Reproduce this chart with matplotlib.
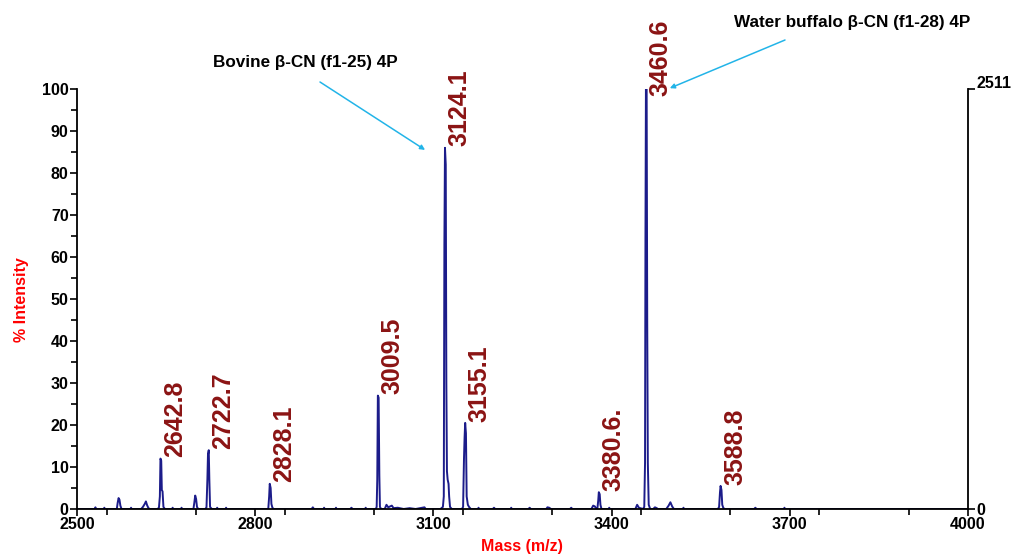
import matplotlib
matplotlib.use("Agg")
import matplotlib.pyplot as plt
from matplotlib.ticker import MultipleLocator
import matplotlib.transforms as mtransforms

# ---- data ----
mz = [2500, 2530, 2531, 2532, 2545, 2546, 2547,
      2567, 2568.5, 2570, 2571.5, 2573, 2575,
      2590, 2591, 2592,
      2608, 2611, 2614, 2616, 2618, 2620, 2622,
      2636, 2638, 2639.5, 2640.5, 2641.8, 2642.8, 2644, 2645.5, 2648,
      2660, 2661, 2662, 2675, 2676, 2677,
      2696, 2697.5, 2699, 2700.5, 2702, 2704,
      2716, 2718, 2719.5, 2720.5, 2721.8, 2722.8, 2724, 2727,
      2735, 2736, 2737, 2750, 2751, 2752,
      2822, 2823.5, 2824.5, 2826, 2827.3, 2829, 2831,
      2895, 2897, 2899, 2915, 2916, 2917, 2935, 2936, 2937, 2960, 2962, 2964, 2985, 2986, 2987,
      3003, 3004.5, 3005.5, 3006.5, 3007.8, 3009, 3010, 3012,
      3018, 3021, 3024, 3030, 3033, 3040, 3050, 3060, 3070, 3085, 3087,
      3112, 3116, 3117.5, 3118.5, 3119.5, 3120.8, 3121.8, 3122.8, 3124, 3125.5, 3126.5, 3128, 3131,
      3148, 3150, 3151.5, 3152.5, 3153.5, 3154.8, 3156, 3158, 3160, 3163,
      3175, 3176, 3177, 3200, 3202, 3204, 3230, 3231, 3232, 3260, 3262, 3264,
      3290, 3292, 3295, 3298, 3330, 3332, 3334,
      3366, 3369, 3372, 3374,
      3376, 3377.5, 3378.5, 3380, 3381.2, 3383,
      3395, 3396, 3397,
      3440, 3443, 3446,
      3453, 3455, 3456.3, 3457, 3457.8, 3459, 3460, 3461, 3462.5, 3465,
      3470, 3473, 3476, 3478,
      3492, 3496, 3499, 3502, 3505,
      3520, 3521, 3522,
      3579, 3581, 3582.5, 3583.5, 3585, 3586.3, 3588, 3590,
      3640, 3642, 3644, 3690, 3691, 3692, 4000]
intensity = [0, 0, 0.4, 0, 0, 0.3, 0,
             0, 1.5, 2.6, 2.2, 0.8, 0,
             0, 0.3, 0,
             0, 0.5, 1.2, 1.8, 0.9, 0.3, 0,
             0, 0.4, 3, 12, 11.5, 4.5, 4.2, 0.5, 0,
             0, 0.3, 0, 0, 0.3, 0,
             0, 1.5, 3.2, 2.4, 0.5, 0,
             0, 0.4, 7, 13, 14, 7, 0.5, 0,
             0, 0.3, 0, 0, 0.3, 0,
             0, 3, 6, 5, 1.2, 0.3, 0,
             0, 0.4, 0, 0, 0.3, 0, 0, 0.3, 0, 0, 0.3, 0, 0, 0.3, 0,
             0, 0.5, 7, 27, 26.5, 8, 0.5, 0,
             0, 1, 0.4, 0.8, 0.2, 0.3, 0, 0.2, 0, 0.4, 0,
             0, 0.5, 3, 63, 86, 82, 30, 9, 7, 6, 3, 0.5, 0,
             0, 0.5, 12, 17, 20.5, 18, 3, 1, 0.5, 0,
             0, 0.3, 0, 0, 0.3, 0, 0, 0.3, 0, 0, 0.3, 0,
             0, 0.4, 0.3, 0, 0, 0.3, 0,
             0, 0.8, 0.6, 0,
             0, 2, 4, 3.5, 1, 0,
             0, 0.3, 0,
             0, 1, 0.3,
             0, 0.5, 11, 64, 100, 100, 44, 11, 1, 0,
             0, 0.4, 0.2, 0,
             0, 0.8, 1.6, 0.6, 0,
             0, 0.3, 0,
             0, 0.5, 4, 5.5, 4.5, 1, 0.3, 0,
             0, 0.3, 0, 0, 0.3, 0, 0]

peak_labels = ["2642.8", "2722.7", "2828.1", "3009.5", "3124.1", "3155.1", "3380.6.", "3460.6", "3588.8"]
peak_x = [2640.5, 2721.8, 2824.5, 3006.5, 3119.5, 3153.5, 3378.5, 3457.8, 3583.5]
peak_y = [12, 14, 6, 27, 86, 20.5, 4, 98, 5.5]

x_ticks = [2500, 2800, 3100, 3400, 3700, 4000]
y_ticks = [0, 10, 20, 30, 40, 50, 60, 70, 80, 90, 100]
right_ticks = [0, 100]
right_labels = ["0", "2511"]

annot_texts = ["Bovine β-CN (f1-25) 4P", "Water buffalo β-CN (f1-28) 4P"]
annot_targets = [(3086, 85.5), (3498, 100.2)]

# ---- figure ----
plt.rcParams['font.family'] = ['Liberation Sans', 'DejaVu Sans']
fig = plt.figure(figsize=(10.24, 5.55), dpi=100)
ax = fig.add_axes([0.0752, 0.0829, 0.8701, 0.7567])

ax.plot(mz, intensity, color="#1c1c8a", lw=1.4)
ax.set_xlim(2500, 4000)
ax.set_ylim(0, 100)

ax.spines['top'].set_visible(False)
ax.spines['right'].set_visible(False)
for s in ('left', 'bottom'):
    ax.spines[s].set_linewidth(1.3)

ax.set_xticks(x_ticks)
ax.set_yticks(y_ticks)
ax.xaxis.set_minor_locator(MultipleLocator(150))
ax.yaxis.set_minor_locator(MultipleLocator(5))
ax.tick_params(axis='both', which='major', length=5, width=1.2, direction='out', pad=1,
               labelsize=11.5)
ax.tick_params(axis='both', which='minor', length=4, width=1.2, direction='out')
for lab in ax.get_xticklabels() + ax.get_yticklabels():
    lab.set_fontweight('bold')

fig.text(22 / 1024, 1 - 300 / 555, "% Intensity", color="red", fontweight="bold",
         fontsize=11.5, rotation=90, ha='center', va='center')
fig.text(522 / 1024, 1 - 547 / 555, "Mass (m/z)", color="red", fontweight="bold",
         fontsize=11.5, ha='center', va='center')

ax2 = ax.twinx()
ax2.set_ylim(0, 100)
ax2.set_yticks(right_ticks)
ax2.set_yticklabels(right_labels)
for s in ('top', 'left', 'bottom'):
    ax2.spines[s].set_visible(False)
ax2.spines['right'].set_linewidth(1.3)
ax2.tick_params(axis='y', length=5, width=1.2, direction='out', pad=1, labelsize=11.5)
for lab in ax2.get_yticklabels():
    lab.set_fontweight('bold')
lbls = ax2.get_yticklabels()
lbls[1].set_transform(lbls[1].get_transform() + mtransforms.ScaledTranslation(0, 7/100, fig.dpi_scale_trans))

for t, x, y in zip(peak_labels, peak_x, peak_y):
    ax.annotate(t, xy=(x, y), xytext=(2, 1), textcoords='offset points',
                rotation=90, ha='left', va='bottom', color='#8b1414',
                fontsize=18, fontweight='bold', annotation_clip=False)

# annotation texts with arrows (text placed in figure pixel coordinates)
text_pos = [(305 / 1024, 1 - 62 / 555), (852 / 1024, 1 - 22 / 555)]
arrow_start = [(320 / 1024, 1 - 82 / 555), (785 / 1024, 1 - 40 / 555)]
for t, tp, st, tgt in zip(annot_texts, text_pos, arrow_start, annot_targets):
    fig.text(tp[0], tp[1], t, ha='center', va='center', fontsize=12.3, fontweight='bold')
    ax.annotate("", xy=tgt, xycoords='data', xytext=st, textcoords='figure fraction',
                arrowprops=dict(arrowstyle='-|>', color='#22b4e8', lw=1.1,
                                mutation_scale=7, shrinkA=0, shrinkB=0),
                annotation_clip=False)

fig.savefig("out.png", dpi=100)
